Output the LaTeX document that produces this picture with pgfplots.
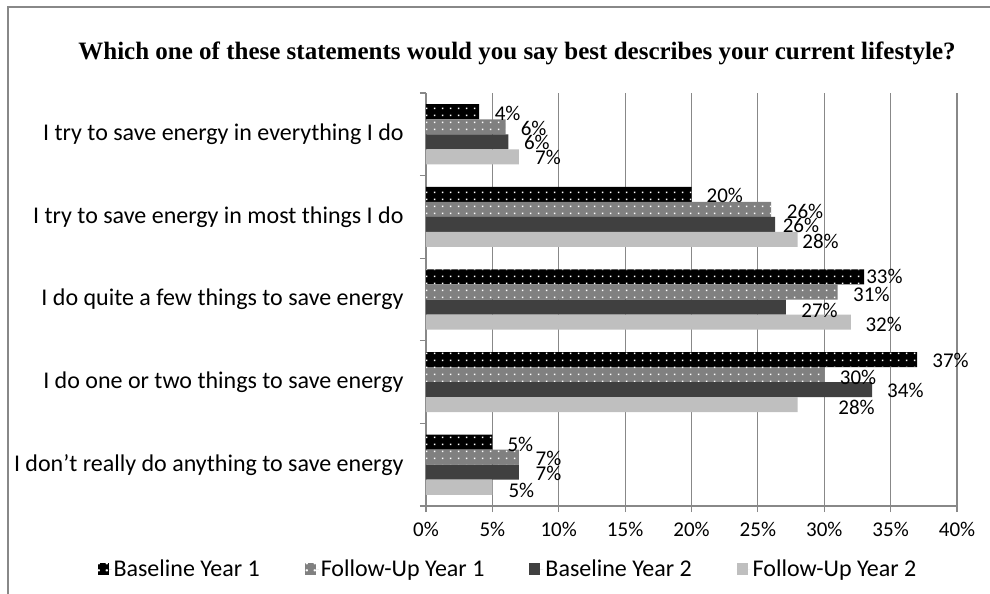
\documentclass[border=0pt]{standalone}
\usepackage{pgfplots}
\pgfplotsset{compat=1.18}
\usepackage{pgfplotstable}
\usetikzlibrary{patterns.meta}
\usepackage{fontspec}
\setmainfont{Carlito}
\newfontfamily\titlefont{Liberation Serif}
\definecolor{gridgray}{HTML}{888888}
\definecolor{sGray}{HTML}{808080}
\definecolor{sDark}{HTML}{404040}
\definecolor{sLight}{HTML}{BFBFBF}
\tikzdeclarepattern{
  name=xldots,
  type=uncolored,
  bounding box={(0bp,0bp) and (8bp,7bp)},
  tile size={(8bp,7bp)},
  code={\fill (2bp,2bp) rectangle (3.8bp,3.8bp);}
}
\pgfplotstableread{
c v lbl dx ys
4 4.0 4 15.5 -1.3
3 20.0 20 15 -1.5
2 33.0 33 2 0.6
1 37.0 37 15 -1.2
0 5.0 5 15 -2.7
}\tA
\pgfplotstableread{
c v lbl dx ys
4 6.0 6 15 -2
3 26.0 26 15.5 -2.5
2 31.0 31 15.5 -2.6
1 30.0 30 15.5 -2.5
0 7.0 7 16.5 -1.6
}\tB
\pgfplotstableread{
c v lbl dx ys
4 6.2 6 15.5 -0.3
3 26.3 26 7.5 -1.5
2 27.1 27 15.5 -3
1 33.6 34 15 -0.8
0 7.0 7 16.5 -1.3
}\tC
\pgfplotstableread{
c v lbl dx ys
4 7.0 7 16 -0.2
3 28.0 28 4.5 -1.5
2 32.0 32 14.5 -2.7
1 28.0 28 40.5 -3
0 5.0 5 16 -2.9
}\tD
\pgfplotsset{
  lab/.style={
    point meta=explicit symbolic,
    nodes near coords={\pgfplotspointmeta\%},
    visualization depends on={\thisrow{dx}\as\dx},
    visualization depends on={\thisrow{ys}\as\ys},
    every node near coord/.append style={anchor=west, inner sep=0pt, text=black,
      xshift=\dx*1bp, yshift=\ys*1bp, font=\fontsize{21bp}{24bp}\selectfont},
  }
}
\begin{document}
\begin{tikzpicture}
\path[use as bounding box] (0bp,0bp) rectangle (990bp,594bp);
\draw[gridgray, line width=1.2bp] (8bp,0bp) -- (8bp,587bp) -- (990bp,587bp);
\begin{axis}[
  at={(426bp,88bp)}, anchor=south west,
  scale only axis, width=531bp, height=413bp,
  xbar, bar width=0.182,
  xmin=0, xmax=40, ymin=-0.5, ymax=4.5,
  axis x line*=bottom, axis y line*=left,
  axis line style={gridgray, line width=1.2bp},
  xtick={0,5,...,40},
  xticklabels={0\%,5\%,10\%,15\%,20\%,25\%,30\%,35\%,40\%},
  ytick={0,1,2,3,4},
  yticklabels={I don’t really do anything to save energy, I do one or two things to save energy, I do quite a few things to save energy, I try to save energy in most things I do, I try to save energy in everything I do},
  minor ytick={-0.5,0.5,1.5,2.5,3.5,4.5},
  tick align=outside,
  major tick length=6bp, minor tick length=6bp,
  every major y tick/.append style={draw=none},
  tick style={gridgray, line width=1.2bp},
  xmajorgrids, grid style={gridgray, line width=1.2bp},
  xticklabel style={font=\fontsize{21bp}{24bp}\selectfont, yshift=-7bp},
  yticklabel style={font=\fontsize{24bp}{28bp}\selectfont, xshift=-13bp},
  clip=false,
  legend style={at={(axis description cs:0.1544,-0.153)}, anchor=center,
    draw=none, fill=none, legend columns=4,
    font=\fontsize{24bp}{28bp}\selectfont,
    /tikz/every even column/.append style={column sep=43bp}},
]
\addplot[fill=black, draw=none, bar shift=0.273, postaction={pattern=xldots, pattern color=white}, lab,
  legend image code/.code={\path (0bp,0bp) -- (14bp,0bp); \fill[black] (0bp,-6bp) rectangle (11bp,6bp); \fill[pattern=xldots, pattern color=white] (0bp,-6bp) rectangle (11bp,6bp);}]
  table[x=v, y=c, meta=lbl] \tA;
\addplot[fill=sGray, draw=none, bar shift=0.091, postaction={pattern=xldots, pattern color=white}, lab,
  legend image code/.code={\path (0bp,0bp) -- (14bp,0bp); \fill[sGray] (0bp,-6bp) rectangle (11bp,6bp); \fill[pattern=xldots, pattern color=white] (0bp,-6bp) rectangle (11bp,6bp);}]
  table[x=v, y=c, meta=lbl] \tB;
\addplot[fill=sDark, draw=none, bar shift=-0.091, lab,
  legend image code/.code={\path (0bp,0bp) -- (14bp,0bp); \fill[sDark] (0bp,-6bp) rectangle (11bp,6bp);}]
  table[x=v, y=c, meta=lbl] \tC;
\addplot[fill=sLight, draw=none, bar shift=-0.273, lab,
  legend image code/.code={\path (0bp,0bp) -- (14bp,0bp); \fill[sLight] (0bp,-6bp) rectangle (11bp,6bp);}]
  table[x=v, y=c, meta=lbl] \tD;
\legend{Baseline Year 1, Follow-Up Year 1, Baseline Year 2, Follow-Up Year 2}
\end{axis}
\node[anchor=base, font=\titlefont\bfseries\fontsize{25bp}{28bp}\selectfont] at (517bp,534bp) {Which one of these statements would you say best describes your current lifestyle?};
\end{tikzpicture}
\end{document}
